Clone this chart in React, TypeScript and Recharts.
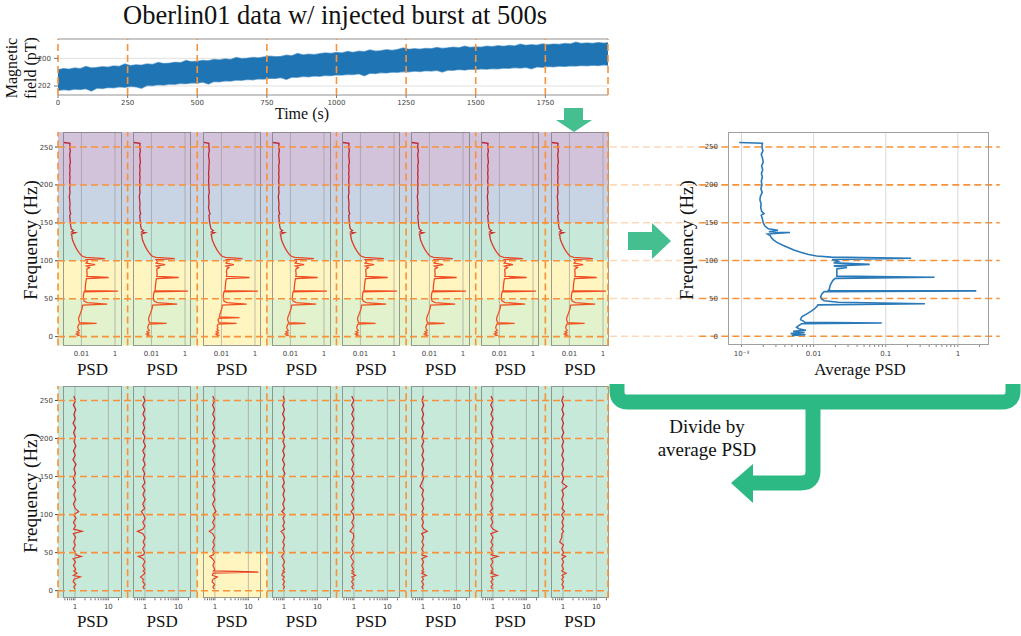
import React from 'react';
import {
  AreaChart, Area, LineChart, Line, ComposedChart, XAxis, YAxis,
  ReferenceLine, ReferenceArea, CartesianGrid,
} from 'recharts';

// ---------- top: magnetic field time series ----------
const timeTicks = [0, 250, 500, 750, 1000, 1250, 1500, 1750];
const timeEnd = 1975;
const fieldTicks = [200, 202];
const fieldTimes = [
  0, 20, 40, 60, 80, 100, 120, 140, 160, 180,
  200, 220, 240, 260, 280, 300, 320, 340, 360, 380,
  400, 420, 440, 460, 480, 500, 520, 540, 560, 580,
  600, 620, 640, 660, 680, 700, 720, 740, 760, 780,
  800, 820, 840, 860, 880, 900, 920, 940, 960, 980,
  1000, 1020, 1040, 1060, 1080, 1100, 1120, 1140, 1160, 1180,
  1200, 1220, 1240, 1260, 1280, 1300, 1320, 1340, 1360, 1380,
  1400, 1420, 1440, 1460, 1480, 1500, 1520, 1540, 1560, 1580,
  1600, 1620, 1640, 1660, 1680, 1700, 1720, 1740, 1760, 1780,
  1800, 1820, 1840, 1860, 1880, 1900, 1920, 1940, 1960, 1975,
];
const fieldTop = [
  200.82, 200.74, 200.79, 200.70, 200.75, 200.58, 200.69, 200.66, 200.60, 200.64,
  200.55, 200.58, 200.40, 200.53, 200.47, 200.50, 200.41, 200.44, 200.30, 200.38,
  200.35, 200.29, 200.32, 200.16, 200.25, 200.21, 200.15, 200.18, 200.08, 200.12,
  200.05, 200.09, 199.94, 200.03, 199.99, 199.93, 199.97, 199.90, 199.84, 199.88,
  199.86, 199.78, 199.82, 199.64, 199.76, 199.70, 199.73, 199.66, 199.61, 199.65,
  199.58, 199.61, 199.50, 199.57, 199.48, 199.52, 199.40, 199.48, 199.45, 199.38,
  199.43, 199.36, 199.25, 199.35, 199.30, 199.34, 199.28, 199.31, 199.22, 199.28,
  199.24, 199.19, 199.24, 199.12, 199.21, 199.17, 199.20, 199.12, 199.16, 199.08,
  199.13, 199.07, 199.10, 198.98, 199.06, 199.02, 199.05, 198.96, 199.01, 198.97,
  198.99, 198.92, 198.96, 198.84, 198.93, 198.89, 198.92, 198.86, 198.90, 198.87,
];
const fieldBottom = [
  202.33, 202.26, 202.30, 202.22, 202.25, 202.19, 202.36, 202.15, 202.18, 202.10,
  202.13, 202.06, 202.09, 202.02, 202.05, 202.16, 201.95, 201.97, 201.90, 201.93,
  201.86, 201.87, 201.80, 201.83, 201.76, 201.78, 201.71, 201.86, 201.67, 201.69,
  201.62, 201.64, 201.57, 201.59, 201.52, 201.55, 201.48, 201.49, 201.43, 201.45,
  201.39, 201.52, 201.35, 201.37, 201.30, 201.33, 201.27, 201.29, 201.23, 201.25,
  201.19, 201.21, 201.15, 201.17, 201.11, 201.25, 201.07, 201.09, 201.03, 201.05,
  200.99, 201.01, 200.95, 200.97, 200.92, 200.95, 200.89, 200.92, 200.86, 200.98,
  200.84, 200.86, 200.80, 200.84, 200.78, 200.81, 200.76, 200.78, 200.73, 200.75,
  200.70, 200.72, 200.67, 200.70, 200.64, 200.76, 200.61, 200.64, 200.58, 200.61,
  200.56, 200.58, 200.53, 200.56, 200.51, 200.54, 200.49, 200.52, 200.47, 200.50,
];

// ---------- spectra ----------
const freqTicks = [0, 50, 100, 150, 200, 250];
const bandEdges = [50, 100, 150, 200];
const segmentStarts = [0, 250, 500, 750, 1000, 1250, 1500, 1750];
const burstWindow = [500, 750];
const burstBandTop = 50;

const avgFreqs = [
  256, 255, 250, 245, 240, 235, 230, 225, 220, 215,
  210, 205, 200, 195, 190, 185, 180, 175, 170, 165,
  162, 160, 155, 150, 146, 142, 140, 138, 137, 135,
  133, 130, 127, 124, 120, 117, 114, 111, 108, 106,
  104.5, 103, 101.5, 99, 97, 95, 93, 91, 89, 86,
  82, 79.5, 78, 76.5, 74, 70, 66, 62, 60.5, 60,
  59, 56, 52, 49, 47, 45, 43, 41.5, 40, 37,
  34, 31, 28, 26, 25, 24, 22, 20, 18.5, 17.5,
  16.5, 14, 12, 10, 8, 6.5, 5, 3.5, 2, 1,
];
const avgPsd = [
  0.00093, 0.00195, 0.00192, 0.00198, 0.00188, 0.00196, 0.002, 0.0019, 0.00197, 0.00189,
  0.00195, 0.00188, 0.00192, 0.00186, 0.00194, 0.00183, 0.0018, 0.00187, 0.00185, 0.0019,
  0.00205, 0.00188, 0.00195, 0.002, 0.0021, 0.00235, 0.0032, 0.0024, 0.0047, 0.0023,
  0.0025, 0.0026, 0.0028, 0.0031, 0.0038, 0.0045, 0.0053, 0.0066, 0.0085, 0.011,
  0.0175, 0.225, 0.018, 0.022, 0.019, 0.06, 0.019, 0.029, 0.021, 0.021,
  0.021, 0.021, 0.475, 0.02, 0.0185, 0.0175, 0.0168, 0.0165, 0.016, 1.8,
  0.014, 0.013, 0.0125, 0.013, 0.014, 0.022, 0.35, 0.0115, 0.0112, 0.0105,
  0.0095, 0.0085, 0.0075, 0.0069, 0.0068, 0.0067, 0.0066, 0.0072, 0.0075, 0.088,
  0.0068, 0.0062, 0.0058, 0.0062, 0.0078, 0.0052, 0.0075, 0.0048, 0.0077, 0.005,
];
const quietSegmentPsd = [
  0.0009, 0.0021, 0.002, 0.0022, 0.002, 0.0021, 0.0022, 0.002, 0.0021, 0.002,
  0.0021, 0.002, 0.0021, 0.002, 0.0021, 0.0019, 0.002, 0.0021, 0.002, 0.0021,
  0.0023, 0.002, 0.0021, 0.0022, 0.0023, 0.0025, 0.0034, 0.0026, 0.0045, 0.0025,
  0.0027, 0.0028, 0.003, 0.0034, 0.0041, 0.0048, 0.0057, 0.007, 0.009, 0.0115,
  0.018, 0.25, 0.019, 0.023, 0.019, 0.065, 0.02, 0.03, 0.021, 0.021,
  0.022, 0.021, 0.42, 0.02, 0.019, 0.018, 0.0172, 0.0168, 0.016, 1.5,
  0.0145, 0.0135, 0.013, 0.0135, 0.0145, 0.022, 0.34, 0.012, 0.0115, 0.011,
  0.0098, 0.0088, 0.0078, 0.0072, 0.007, 0.0068, 0.0068, 0.0074, 0.0078, 0.08,
  0.007, 0.0064, 0.006, 0.0064, 0.0075, 0.0055, 0.0072, 0.005, 0.0074, 0.0052,
];
const burstSegmentPsd = [
  0.0009, 0.0018, 0.0018, 0.0019, 0.0017, 0.0018, 0.0019, 0.0018, 0.0018, 0.0017,
  0.0018, 0.0017, 0.0018, 0.0018, 0.0019, 0.0017, 0.0018, 0.0018, 0.0017, 0.0019,
  0.0021, 0.0018, 0.0019, 0.002, 0.0022, 0.0024, 0.0033, 0.0025, 0.004, 0.0024,
  0.0026, 0.0027, 0.0029, 0.0033, 0.004, 0.0047, 0.0056, 0.0069, 0.0088, 0.0112,
  0.0175, 0.18, 0.019, 0.022, 0.019, 0.055, 0.019, 0.028, 0.021, 0.02,
  0.021, 0.02, 0.47, 0.02, 0.0185, 0.0178, 0.017, 0.0165, 0.016, 1.5,
  0.014, 0.0132, 0.0128, 0.0132, 0.014, 0.021, 0.32, 0.0115, 0.011, 0.0105,
  0.0095, 0.0085, 0.0078, 0.0075, 0.12, 0.0072, 0.0062, 0.0068, 0.0072, 0.08,
  0.0065, 0.0056, 0.0062, 0.0055, 0.0068, 0.005, 0.0066, 0.0047, 0.0068, 0.005,
];
const segmentSpectra = [
  quietSegmentPsd, quietSegmentPsd, burstSegmentPsd, quietSegmentPsd,
  quietSegmentPsd, quietSegmentPsd, quietSegmentPsd, quietSegmentPsd,
];

// PSD divided by the average PSD
const ratioFreqs = [
  256, 250, 244, 238, 232, 226, 220, 214, 208, 202,
  196, 190, 184, 178, 172, 166, 160, 154, 148, 142,
  137, 132, 126, 120, 114, 108, 104, 100, 95, 90,
  85, 81, 78, 75, 70, 64, 60, 55, 50, 47,
  45, 42, 38, 33, 28, 26, 24.5, 23, 20, 18,
  15, 12, 8, 5, 2,
];
const ratio1 = [
  0.92, 1.04, 0.9, 1.06, 0.93, 1.02, 0.88, 1.05, 0.91, 1.03,
  0.94, 1.07, 0.9, 1.02, 0.87, 1.08, 0.93, 1.04, 0.89, 1.03,
  0.86, 1.05, 0.92, 1.06, 0.9, 1.02, 1.3, 0.92, 1.08, 0.9,
  1.04, 0.91, 1.65, 0.89, 1.05, 0.92, 1.03, 0.88, 1.04, 1.08,
  1.55, 0.88, 1.04, 0.9, 1.06, 0.92, 1.03, 1.15, 0.9, 1.45,
  0.94, 0.88, 1.05, 0.92, 1.0,
];
const ratio2 = [
  0.88, 1.0, 0.86, 0.99, 0.87, 1.02, 0.88, 0.98, 0.85, 1.0,
  0.9, 1.03, 0.86, 0.99, 0.88, 1.01, 0.85, 0.98, 0.9, 1.0,
  0.84, 0.99, 0.87, 1.02, 0.86, 0.98, 0.78, 0.9, 1.02, 0.86,
  0.99, 0.88, 0.6, 0.87, 1.01, 0.88, 0.99, 0.86, 0.98, 0.9,
  0.64, 0.88, 1.0, 0.86, 0.99, 0.88, 0.97, 1.0, 0.85, 0.74,
  0.9, 0.86, 1.0, 0.88, 0.96,
];
const ratio3 = [
  0.86, 0.98, 0.85, 0.97, 0.86, 0.99, 0.87, 0.97, 0.84, 0.98,
  0.87, 1.0, 0.85, 0.97, 0.86, 0.99, 0.84, 0.97, 0.88, 0.99,
  0.85, 0.98, 0.87, 1.0, 0.85, 0.97, 1.08, 0.87, 0.99, 0.85,
  0.98, 0.87, 0.68, 0.86, 0.99, 0.87, 0.97, 0.85, 0.96, 0.88,
  0.7, 0.85, 0.97, 0.87, 0.98, 0.9, 20, 0.88, 0.84, 1.18,
  0.88, 0.82, 0.98, 0.87, 0.95,
];
const ratio4 = [
  0.94, 1.05, 0.92, 1.04, 0.91, 1.06, 0.93, 1.04, 0.9, 1.05,
  0.93, 1.07, 0.92, 1.04, 0.9, 1.05, 0.93, 1.07, 0.92, 1.03,
  0.9, 1.05, 0.93, 1.06, 0.92, 1.04, 0.86, 1.08, 0.93, 1.04,
  0.92, 1.05, 0.82, 0.94, 1.06, 0.92, 1.04, 0.93, 1.05, 0.92,
  0.85, 0.94, 1.05, 0.92, 1.04, 0.93, 1.05, 0.91, 0.87, 1.03,
  0.92, 1.05, 0.93, 1.04, 0.95,
];
const ratio5 = [
  0.86, 0.99, 0.85, 0.98, 0.86, 1.0, 0.85, 0.97, 0.86, 0.99,
  0.84, 0.98, 0.86, 0.99, 0.85, 0.97, 0.86, 1.0, 0.85, 0.98,
  0.86, 0.97, 0.84, 0.99, 0.86, 0.98, 0.82, 0.96, 0.99, 0.86,
  0.98, 0.85, 0.76, 0.96, 0.99, 0.86, 0.98, 0.85, 0.97, 0.87,
  0.8, 0.86, 0.98, 0.85, 0.97, 0.86, 0.98, 0.87, 1.12, 0.86,
  0.98, 0.85, 0.97, 0.86, 0.95,
];
const ratio6 = [
  1.04, 0.93, 1.06, 0.92, 1.05, 0.93, 1.07, 0.92, 1.04, 0.93,
  1.06, 0.92, 1.05, 0.93, 1.07, 0.92, 1.04, 0.94, 1.06, 0.92,
  0.82, 1.04, 0.93, 1.06, 0.92, 1.05, 0.94, 1.06, 0.92, 1.04,
  0.93, 1.06, 1.35, 0.91, 1.05, 0.93, 1.06, 0.92, 1.04, 0.93,
  1.3, 0.92, 1.05, 0.93, 1.04, 0.94, 1.06, 0.92, 1.27, 0.93,
  1.04, 0.92, 1.05, 0.93, 1.02,
];
const ratio7 = [
  0.88, 1.0, 0.86, 0.99, 0.87, 1.01, 0.86, 0.99, 0.88, 1.0,
  0.86, 1.01, 0.87, 0.99, 0.86, 1.0, 0.88, 0.99, 0.86, 1.01,
  0.88, 0.99, 0.86, 1.0, 0.87, 0.98, 0.82, 1.0, 0.88, 0.99,
  0.86, 1.0, 1.35, 0.86, 1.0, 0.87, 0.99, 0.86, 1.0, 0.88,
  1.4, 0.87, 1.0, 0.86, 0.99, 0.88, 1.0, 0.86, 1.35, 0.89,
  1.0, 0.87, 0.99, 0.88, 0.97,
];
const ratio8 = [
  1.04, 0.92, 1.05, 0.93, 1.06, 0.92, 1.04, 0.93, 1.06, 0.92,
  1.05, 0.93, 1.04, 0.92, 1.06, 0.93, 1.04, 0.92, 1.05, 0.93,
  1.32, 0.93, 1.05, 0.92, 1.04, 0.93, 1.12, 0.91, 1.05, 0.93,
  1.04, 0.92, 1.05, 0.93, 0.92, 0.8, 1.04, 0.92, 1.05, 0.93,
  1.2, 0.92, 1.05, 0.93, 1.04, 0.92, 1.06, 1.25, 0.93, 1.05,
  0.92, 1.04, 0.93, 1.05, 0.97,
];
const ratioSpectra = [ratio1, ratio2, ratio3, ratio4, ratio5, ratio6, ratio7, ratio8];

const segTicks = [0.01, 1];
const ratioTicks = [0.5, 0.6, 0.7, 0.8, 0.9, 1, 2, 3, 4, 5, 6, 7, 8, 9, 10, 20];
const ratioMajor = [1, 10];
const avgMajor = [0.001, 0.01, 0.1, 1];
const avgTicks = [
  0.001, 0.002, 0.003, 0.004, 0.005, 0.006, 0.007, 0.008, 0.009,
  0.01, 0.02, 0.03, 0.04, 0.05, 0.06, 0.07, 0.08, 0.09,
  0.1, 0.2, 0.3, 0.4, 0.5, 0.6, 0.7, 0.8, 0.9, 1, 2,
];

// ---------- layout / style ----------
const SERIF = '"Liberation Serif", "DejaVu Serif", serif';
const SANS = '"DejaVu Sans", sans-serif';
const GUIDE = '#f7923a';
const GUIDE_MID = '#f9b57c';
const GUIDE_LIGHT = '#fdd9bb';
const BLUE = '#1f74b4';
const tickStyle = { fontSize: 7, fill: '#444', fontFamily: SANS };
const PLOT_L = 58;
const PLOT_R = 608;
const PANEL_W = 58.4;
const xOfTime = (t: number) => PLOT_L + (t / timeEnd) * (PLOT_R - PLOT_L);
const guideTimes = [...timeTicks, timeEnd];
const guideData = guideTimes.map((t) => ({ t }));

const row1 = { top: 132.3, bottom: 345.7, domain: [-11.5, 269.8] as [number, number] };
const row2 = { top: 386, bottom: 598.3, domain: [-10, 269] as [number, number] };
const row1Colors = ['#e1f2cd', '#fff5c1', '#c8e9da', '#c8d4e4', '#d3c3da'];
const row2Colors = ['#c7e9da', '#c7e9da', '#c7e9da', '#c7e9da', '#c7e9da'];
const burstColor = '#fff5c1';

const fieldDomain: [number, number] = [198.6, 202.65];
const fieldData = fieldTimes.map((t, i) => ({ t, band: [fieldTop[i], fieldBottom[i]] }));
const avgData = avgFreqs.map((f, i) => ({ freq: f, psd: avgPsd[i] }));

type Geo = { top: number; bottom: number; domain: [number, number] };

function Label({ x, y, size, rotate, children }: { x: number; y: number; size: number; rotate?: boolean; children: React.ReactNode }) {
  return (
    <div
      style={{
        position: 'absolute', left: x, top: y,
        transform: `translate(-50%, -50%)${rotate ? ' rotate(-90deg)' : ''}`,
        fontSize: size, lineHeight: 1.15, whiteSpace: 'nowrap', textAlign: 'center',
        fontFamily: SERIF, color: '#111',
      }}
    >
      {children}
    </div>
  );
}

function FullGuides() {
  return (
    <div style={{ position: 'absolute', left: 0, top: 20 }}>
      <ComposedChart width={PLOT_R + 12} height={612} data={guideData} margin={{ top: 0, right: 12, bottom: 0, left: PLOT_L }}>
        <XAxis type="number" dataKey="t" domain={[0, timeEnd]} hide allowDataOverflow />
        <YAxis type="number" domain={[0, 1]} hide />
        {guideTimes.map((t) => (
          <ReferenceLine key={t} x={t} stroke={GUIDE_MID} strokeDasharray="7 4" strokeWidth={1.5} />
        ))}
      </ComposedChart>
    </div>
  );
}

function TopSeries() {
  return (
    <div style={{ position: 'absolute', left: 0, top: 30 }}>
      <AreaChart width={PLOT_R + 12} height={85} data={fieldData} margin={{ top: 9, right: 12, bottom: 0, left: 0 }}>
        <CartesianGrid vertical={false} stroke="#e0e0e0" />
        <XAxis type="number" dataKey="t" domain={[0, timeEnd]} ticks={timeTicks} interval={0} height={20}
          tick={tickStyle} tickSize={3} tickMargin={2} axisLine={false} tickLine={{ stroke: '#777' }} allowDataOverflow />
        <YAxis type="number" reversed domain={fieldDomain} ticks={fieldTicks} width={PLOT_L}
          tick={tickStyle} tickSize={4} tickMargin={3} axisLine={false} tickLine={{ stroke: '#777' }} allowDataOverflow />
        <ReferenceLine y={fieldDomain[0]} stroke="#c8c8c8" strokeWidth={2} />
        <ReferenceLine y={fieldDomain[1]} stroke="#c8c8c8" strokeWidth={2} />
        <Area type="linear" dataKey="band" stroke={BLUE} strokeOpacity={0.55} strokeWidth={1.4} fill={BLUE} fillOpacity={1} isAnimationActive={false} />
        {guideTimes.map((t) => (
          <ReferenceLine key={t} x={t} stroke={GUIDE} strokeDasharray="7 4" strokeWidth={1.6} />
        ))}
      </AreaChart>
    </div>
  );
}

function RowBackground({ geo, colors }: { geo: Geo; colors: string[] }) {
  const lims = [geo.domain[0], ...bandEdges, geo.domain[1]];
  return (
    <div style={{ position: 'absolute', left: 0, top: geo.top }}>
      <ComposedChart width={PLOT_R + 12} height={geo.bottom - geo.top} data={guideData} margin={{ top: 0, right: 12, bottom: 0, left: 0 }}>
        <XAxis type="number" dataKey="t" domain={[0, timeEnd]} hide allowDataOverflow />
        <YAxis type="number" domain={geo.domain} ticks={freqTicks} interval={0} width={PLOT_L} tick={tickStyle}
          tickSize={3} tickMargin={2} axisLine={false} tickLine={{ stroke: '#444' }} allowDataOverflow />
        {colors.map((c, i) => (
          <ReferenceArea key={i} x1={0} x2={timeEnd} y1={lims[i]} y2={lims[i + 1]} fill={c} fillOpacity={1} stroke="none" />
        ))}
        <ReferenceArea x1={burstWindow[0]} x2={burstWindow[1]} y1={geo.domain[0]} y2={burstBandTop} fill={burstColor} fillOpacity={1} stroke="none" />
      </ComposedChart>
    </div>
  );
}

function RowGuides({ geo }: { geo: Geo }) {
  return (
    <div style={{ position: 'absolute', left: 0, top: geo.top }}>
      <ComposedChart width={PLOT_R + 12} height={geo.bottom - geo.top} data={guideData} margin={{ top: 0, right: 12, bottom: 0, left: PLOT_L }}>
        <XAxis type="number" dataKey="t" domain={[0, timeEnd]} hide allowDataOverflow />
        <YAxis type="number" domain={geo.domain} hide allowDataOverflow />
        {freqTicks.map((f) => (
          <ReferenceLine key={'h' + f} y={f} stroke={GUIDE} strokeDasharray="7 4" strokeWidth={1.6} />
        ))}
        {guideTimes.map((t) => (
          <ReferenceLine key={'v' + t} x={t} stroke={GUIDE} strokeDasharray="7 4" strokeWidth={1.6} />
        ))}
      </ComposedChart>
    </div>
  );
}

function SegmentPanel({
  idx, geo, freqs, values, xDomain, ticks, major, fmt, stops, minor, width,
}: {
  idx: string; geo: Geo; freqs: number[]; values: number[]; xDomain: [number, number];
  ticks: number[]; major: number[]; fmt: (v: number) => string; stops: string[]; minor: boolean; width: number;
}) {
  const left = xOfTime(segmentStarts[Number(idx.slice(1))]) + 5.3;
  const h = geo.bottom - geo.top;
  const data = freqs.map((f, i) => ({ freq: f, psd: values[i] }));
  const gid = 'grad-' + idx;
  return (
    <>
      <div style={{ position: 'absolute', left, top: geo.top }}>
        <LineChart layout="vertical" width={PANEL_W} height={h + 18} data={data} margin={{ top: 0, right: 0, bottom: 0, left: 0 }}>
          <defs>
            <linearGradient id={gid} x1="0" y1="0" x2="0" y2="1">
              <stop offset="0" stopColor={stops[0]} />
              <stop offset="0.42" stopColor={stops[1]} />
              <stop offset="0.62" stopColor={stops[2]} />
              <stop offset="1" stopColor={stops[3]} />
            </linearGradient>
          </defs>
          <XAxis type="number" scale="log" domain={xDomain} allowDataOverflow ticks={ticks} interval={0}
            tickFormatter={fmt} height={18} tick={tickStyle} tickSize={minor ? 2 : 3} tickMargin={minor ? 4 : 3}
            axisLine={false} tickLine={minor ? { stroke: '#666' } : false} />
          <YAxis type="number" dataKey="freq" domain={geo.domain} reversed hide allowDataOverflow />
          {major.map((v) => (
            <ReferenceLine key={v} x={v} stroke="#8d8d8d" strokeOpacity={0.55} strokeWidth={1} />
          ))}
          <Line type="linear" dataKey="psd" stroke={`url(#${gid})`} strokeWidth={width} dot={false} isAnimationActive={false} />
        </LineChart>
      </div>
      <div style={{
        position: 'absolute', left, top: geo.top, width: PANEL_W, height: h, boxSizing: 'border-box',
        border: '1.3px solid rgba(115,115,115,0.7)',
      }} />
      <Label x={left + PANEL_W / 2} y={geo.bottom + 24} size={17}>PSD</Label>
    </>
  );
}

const segFmt = (v: number) => (v === 0.01 ? '0.01' : v === 1 ? '1' : '');
const ratioFmt = (v: number) => (v === 1 ? '1' : v === 10 ? '10' : '');
const avgFmt = (v: number) => (v === 0.001 ? '10⁻³' : v === 0.01 ? '0.01' : v === 0.1 ? '0.1' : v === 1 ? '1' : '');

function AveragePanel() {
  return (
    <>
      <div style={{ position: 'absolute', left: 600, top: 124 }}>
        <LineChart layout="vertical" width={400} height={241} data={avgData} margin={{ top: 8, right: 11, bottom: 0, left: 0 }}>
          <XAxis type="number" scale="log" domain={[0.00065, 2.7]} allowDataOverflow ticks={avgTicks} interval={0}
            tickFormatter={avgFmt} height={20} tick={tickStyle} tickSize={2} tickMargin={4} axisLine={false} tickLine={{ stroke: '#888' }} />
          <YAxis type="number" dataKey="freq" domain={row1.domain} reversed allowDataOverflow ticks={freqTicks} interval={0}
            width={128} tick={tickStyle} tickLine={false} tickMargin={4} axisLine={false} />
          {avgMajor.map((v) => (
            <ReferenceLine key={v} x={v} stroke="#d9d9d9" strokeWidth={1} />
          ))}
          {freqTicks.map((f) => (
            <ReferenceLine key={'l' + f} ifOverflow="visible" segment={[{ x: 1.5e-5, y: f }, { x: 2.6e-4, y: f }]}
              stroke={GUIDE_LIGHT} strokeDasharray="7 4" strokeWidth={1.6} />
          ))}
          {freqTicks.map((f) => (
            <ReferenceLine key={'s' + f} ifOverflow="visible" segment={[{ x: 2.6e-4, y: f }, { x: 3.8, y: f }]}
              stroke={GUIDE} strokeDasharray="7 4" strokeWidth={1.6} />
          ))}
          <Line type="linear" dataKey="psd" stroke="#2a79b8" strokeWidth={1.6} dot={false} isAnimationActive={false} />
        </LineChart>
      </div>
      <div style={{
        position: 'absolute', left: 728, top: 132.3, width: 261, height: 212.7, boxSizing: 'border-box',
        border: '1px solid #a0a0a0',
      }} />
      <Label x={687} y={240} size={19} rotate>Frequency (Hz)</Label>
      <Label x={860} y={370} size={17}>Average PSD</Label>
    </>
  );
}

function Arrows() {
  const dark = '#2db984';
  const light = '#45bf8f';
  return (
    <svg width={1021} height={636} style={{ position: 'absolute', left: 0, top: 0, pointerEvents: 'none' }}>
      <path d="M564 108 H583 V120 H592 L574 132 L556 120 H564 Z" fill={light} />
      <path d="M628 232 H652 V223 L671 241 L652 259 V250 H628 Z" fill={light} />
      <path d="M617 384 V391 Q617 402 628 402 H1002 Q1013 402 1013 391 V384" stroke={dark} strokeWidth={15} fill="none" />
      <path d="M813 402 V471 Q813 483 801 483 H752" stroke={dark} strokeWidth={15} fill="none" />
      <path d="M753 464 L731 483 L753 503 Z" fill={dark} />
    </svg>
  );
}

export default function App() {
  const row1Stops = ['#bd1f2f', '#c52a2f', '#ee4923', '#f3561f'];
  const row2Stops = ['#c9262c', '#cf2c2b', '#dc3726', '#e84323'];
  return (
    <div style={{ position: 'absolute', left: 0, top: 0, width: 1021, height: 636, overflow: 'hidden', background: '#fff', fontFamily: SERIF }}>
      <FullGuides />
      <Label x={335} y={15} size={26.5}>Oberlin01 data w/ injected burst at 500s</Label>
      <Label x={21} y={68} size={16} rotate>
        <span style={{ lineHeight: '19px' }}>Magnetic<br />field (pT)</span>
      </Label>
      <Label x={302} y={114} size={16}>Time (s)</Label>
      <TopSeries />

      <RowBackground geo={row1} colors={row1Colors} />
      {segmentSpectra.map((vals, i) => (
        <SegmentPanel key={'a' + i} idx={'a' + i} geo={row1} freqs={avgFreqs} values={vals} width={1.3}
          xDomain={[0.0008, 2.4]} ticks={segTicks} major={segTicks} fmt={segFmt} stops={row1Stops} minor={false} />
      ))}
      <RowGuides geo={row1} />
      <Label x={31} y={240} size={19} rotate>Frequency (Hz)</Label>

      <AveragePanel />

      <RowBackground geo={row2} colors={row2Colors} />
      {ratioSpectra.map((vals, i) => (
        <SegmentPanel key={'b' + i} idx={'b' + i} geo={row2} freqs={ratioFreqs} values={vals} width={1.2}
          xDomain={[0.44, 24.5]} ticks={ratioTicks} major={ratioMajor} fmt={ratioFmt} stops={row2Stops} minor />
      ))}
      <RowGuides geo={row2} />
      <Label x={31} y={493} size={19} rotate>Frequency (Hz)</Label>

      <div style={{ position: 'absolute', left: 707, top: 438, transform: 'translate(-50%, -50%)', textAlign: 'center', fontSize: 19, lineHeight: '23px', fontFamily: SERIF, whiteSpace: 'nowrap', color: '#111' }}>
        Divide by<br />average PSD
      </div>
      <Arrows />
    </div>
  );
}
